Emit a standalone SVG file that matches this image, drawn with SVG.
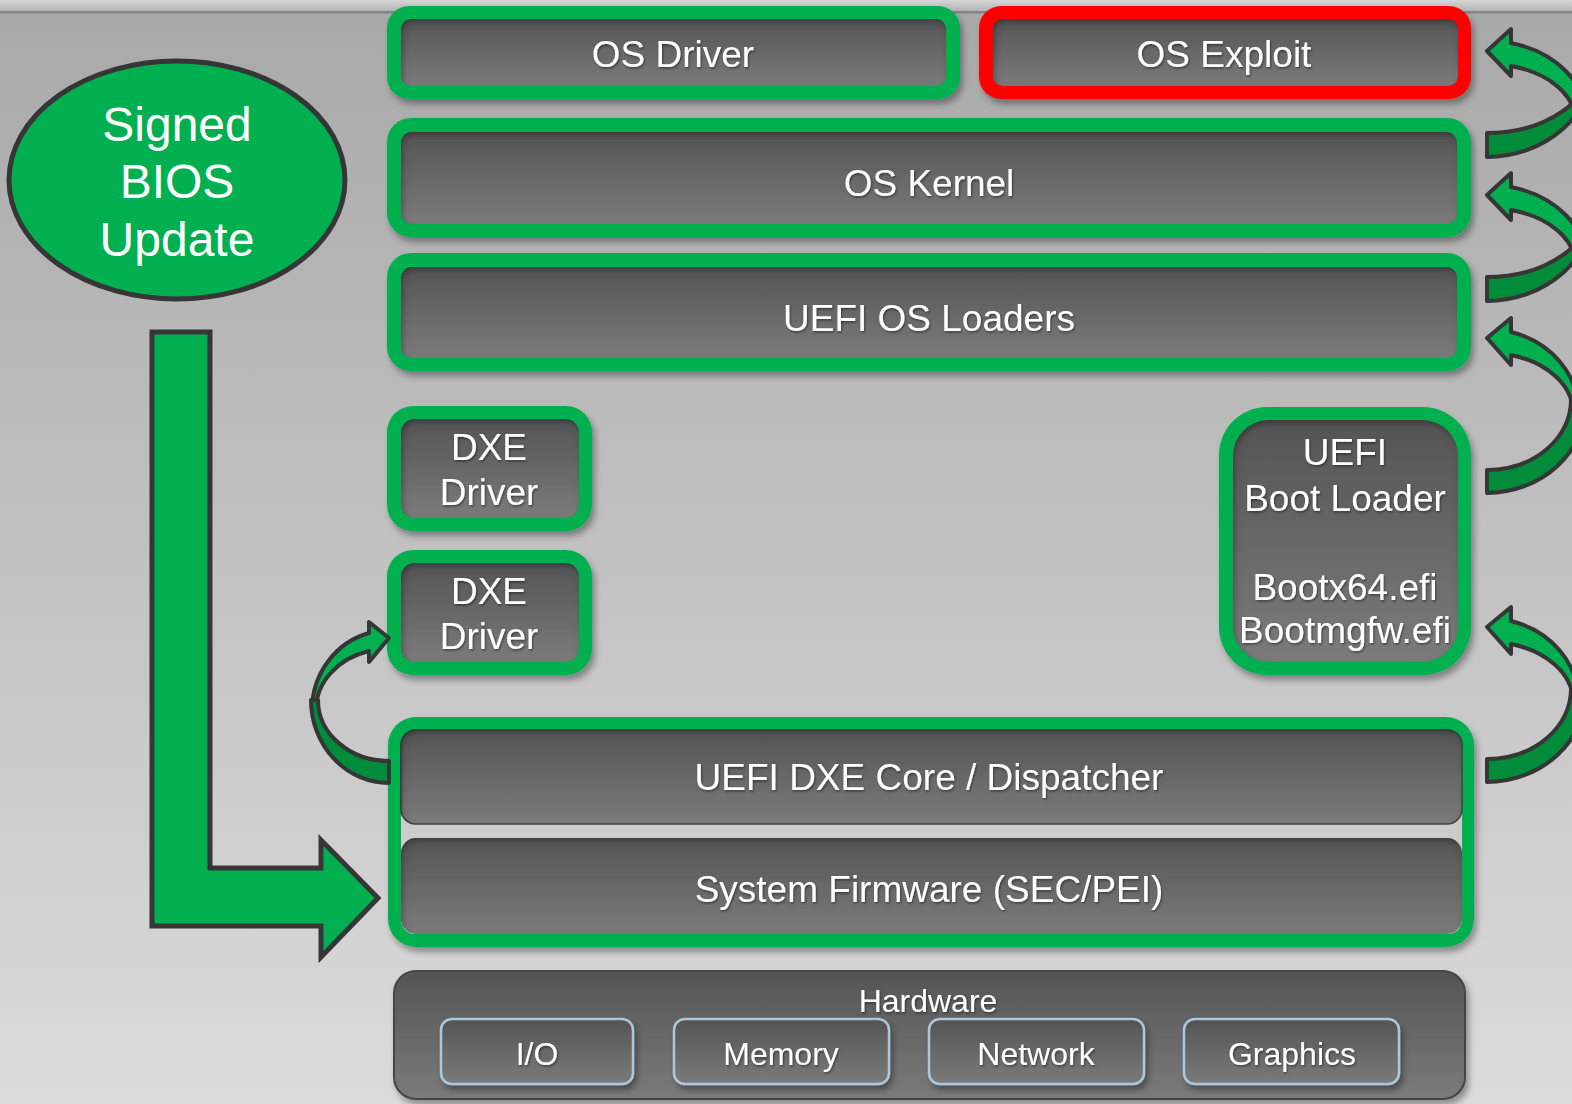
<svg xmlns="http://www.w3.org/2000/svg" width="1572" height="1104" viewBox="0 0 1572 1104">
  <defs>
    <linearGradient id="bg" x1="0" y1="0" x2="0" y2="1">
      <stop offset="0" stop-color="#a8a8a8"/>
      <stop offset="1" stop-color="#dbdbdb"/>
    </linearGradient>
    <linearGradient id="topbar" x1="0" y1="0" x2="0" y2="1">
      <stop offset="0" stop-color="#d6d6d6"/>
      <stop offset="1" stop-color="#b4b4b4"/>
    </linearGradient>
    <linearGradient id="panel" x1="0" y1="0" x2="0" y2="1">
      <stop offset="0" stop-color="#545454"/>
      <stop offset="1" stop-color="#7b7b7b"/>
    </linearGradient>
    <linearGradient id="gap" x1="0" y1="0" x2="0" y2="1">
      <stop offset="0" stop-color="#c2c2c2"/>
      <stop offset="1" stop-color="#d6d6d6"/>
    </linearGradient>
    <filter id="drop" x="-5%" y="-10%" width="112%" height="125%">
      <feDropShadow dx="3" dy="5" stdDeviation="3" flood-color="#000" flood-opacity="0.35"/>
    </filter>
    <filter id="inset" x="-5%" y="-10%" width="110%" height="120%">
      <feComponentTransfer in="SourceAlpha">
        <feFuncA type="table" tableValues="1 0"/>
      </feComponentTransfer>
      <feGaussianBlur stdDeviation="3"/>
      <feOffset dx="2" dy="3" result="ob"/>
      <feFlood flood-color="#000" flood-opacity="0.55"/>
      <feComposite in2="ob" operator="in"/>
      <feComposite in2="SourceAlpha" operator="in" result="sh"/>
      <feMerge>
        <feMergeNode in="SourceGraphic"/>
        <feMergeNode in="sh"/>
      </feMerge>
    </filter>
    <filter id="tshadow" x="-5%" y="-20%" width="110%" height="140%">
      <feDropShadow dx="1" dy="1.5" stdDeviation="0.8" flood-color="#000" flood-opacity="0.45"/>
    </filter>
    <!-- curved return arrows, drawn relative to the head tip -->
    <g id="curveShort">
      <path class="arr-l" d="M1511,-8 A100,79 0 0 1 1587,69 L1575,69 A88,56 0 0 0 1511,15 L1511,25 L1487,0 L1511,-22 Z"/>
      <path class="arr-d" d="M1487,82 A106,73 0 0 0 1593,9 L1595,9 A108,97 0 0 1 1487,106 Z"/>
    </g>
    <g id="curveTall">
      <path class="arr-l" d="M1511,-6 A91,81 0 0 1 1578,72 L1573,72 A86,60 0 0 0 1511,17 L1511,27 L1487,0 L1511,-20 Z"/>
      <path class="arr-d" d="M1487,132 A84,70 0 0 0 1571,62 L1587,62 A100,93 0 0 1 1487,155 Z"/>
    </g>
  </defs>
  <style>
    .lbl { font-family: "Liberation Sans", Arial, sans-serif; fill: #ffffff; text-anchor: middle; font-size: 37px; }
    .hw { font-family: "Liberation Sans", Arial, sans-serif; fill: #ffffff; text-anchor: middle; font-size: 32px; }
    .frame { fill: #00b050; }
    .panel { fill: url(#panel); }
    .arr-l { fill: #00b050; stroke: #363636; stroke-width: 4; stroke-linejoin: round; }
    .arr-d { fill: #008c3a; stroke: #363636; stroke-width: 4; stroke-linejoin: round; }
    .big { fill: #00b050; stroke: #363636; stroke-width: 5; stroke-linejoin: miter; }
    .hwitem { fill: url(#panel); stroke: #a9c8de; stroke-width: 2.5; }
  </style>

  <!-- background -->
  <rect x="0" y="0" width="1572" height="1104" fill="url(#bg)"/>
  <rect x="0" y="0" width="1572" height="11" fill="url(#topbar)"/>
  <rect x="0" y="11" width="1572" height="2.5" fill="#858585"/>

  <!-- OS layer -->
  <g id="os-driver">
    <rect class="frame" x="387" y="6" width="573" height="93" rx="22" filter="url(#drop)"/>
    <rect class="panel" x="401" y="19" width="545" height="67" rx="10" filter="url(#inset)"/>
    <text class="lbl" x="673" y="67" filter="url(#tshadow)">OS Driver</text>
  </g>
  <g id="os-exploit">
    <rect x="979" y="6" width="492" height="93" rx="22" fill="#ff0000" filter="url(#drop)"/>
    <rect class="panel" x="993" y="19" width="465" height="67" rx="10" filter="url(#inset)"/>
    <text class="lbl" x="1224" y="67" filter="url(#tshadow)">OS Exploit</text>
  </g>
  <g id="os-kernel">
    <rect class="frame" x="387" y="118" width="1084" height="119" rx="24" filter="url(#drop)"/>
    <rect class="panel" x="401" y="132" width="1056" height="92" rx="11" filter="url(#inset)"/>
    <text class="lbl" x="929" y="196" filter="url(#tshadow)">OS Kernel</text>
  </g>
  <g id="uefi-os-loaders">
    <rect class="frame" x="387" y="253" width="1084" height="118" rx="24" filter="url(#drop)"/>
    <rect class="panel" x="401" y="267" width="1056" height="91" rx="11" filter="url(#inset)"/>
    <text class="lbl" x="929" y="331" filter="url(#tshadow)">UEFI OS Loaders</text>
  </g>

  <!-- DXE drivers -->
  <g id="dxe-driver-1">
    <rect class="frame" x="387" y="406" width="205" height="125" rx="26" filter="url(#drop)"/>
    <rect class="panel" x="401" y="419" width="178" height="99" rx="14" filter="url(#inset)"/>
    <text class="lbl" x="489" y="460" filter="url(#tshadow)">DXE</text>
    <text class="lbl" x="489" y="505" filter="url(#tshadow)">Driver</text>
  </g>
  <g id="dxe-driver-2">
    <rect class="frame" x="387" y="550" width="205" height="125" rx="26" filter="url(#drop)"/>
    <rect class="panel" x="401" y="563" width="178" height="99" rx="14" filter="url(#inset)"/>
    <text class="lbl" x="489" y="604" filter="url(#tshadow)">DXE</text>
    <text class="lbl" x="489" y="649" filter="url(#tshadow)">Driver</text>
  </g>

  <!-- boot loader -->
  <g id="uefi-boot-loader">
    <rect class="frame" x="1219" y="407" width="252" height="268" rx="48" filter="url(#drop)"/>
    <rect class="panel" x="1233" y="420" width="225" height="242" rx="36" filter="url(#inset)"/>
    <text class="lbl" x="1345" y="465" filter="url(#tshadow)">UEFI</text>
    <text class="lbl" x="1345" y="511" filter="url(#tshadow)">Boot Loader</text>
    <text class="lbl" x="1345" y="600" filter="url(#tshadow)">Bootx64.efi</text>
    <text class="lbl" x="1345" y="643" filter="url(#tshadow)">Bootmgfw.efi</text>
  </g>

  <!-- platform firmware -->
  <g id="firmware">
    <rect class="frame" x="388" y="717" width="1086" height="230" rx="28" filter="url(#drop)"/>
    <rect x="401" y="730" width="1061" height="204" rx="14" fill="url(#gap)"/>
    <g id="dxe-core">
      <rect class="panel" x="401" y="730" width="1061" height="94" rx="15" stroke="#474747" stroke-width="1.5" filter="url(#inset)"/>
      <text class="lbl" x="929" y="790" filter="url(#tshadow)">UEFI DXE Core / Dispatcher</text>
    </g>
    <g id="sec-pei">
      <rect class="panel" x="401" y="838" width="1061" height="96" rx="15" filter="url(#inset)"/>
      <text class="lbl" x="929" y="902" filter="url(#tshadow)">System Firmware (SEC/PEI)</text>
    </g>
  </g>

  <!-- hardware -->
  <g id="hardware">
    <rect x="394" y="971" width="1071" height="128" rx="22" fill="url(#panel)" stroke="#444" stroke-width="2" filter="url(#drop)"/>
    <text class="hw" x="928" y="1012" filter="url(#tshadow)">Hardware</text>
    <g id="hw-io">
      <rect class="hwitem" x="441" y="1019" width="192" height="65" rx="11" filter="url(#drop)"/>
      <text class="hw" x="537" y="1065" filter="url(#tshadow)">I/O</text>
    </g>
    <g id="hw-memory">
      <rect class="hwitem" x="674" y="1019" width="215" height="65" rx="11" filter="url(#drop)"/>
      <text class="hw" x="781" y="1065" filter="url(#tshadow)">Memory</text>
    </g>
    <g id="hw-network">
      <rect class="hwitem" x="929" y="1019" width="215" height="65" rx="11" filter="url(#drop)"/>
      <text class="hw" x="1036" y="1065" filter="url(#tshadow)">Network</text>
    </g>
    <g id="hw-graphics">
      <rect class="hwitem" x="1184" y="1019" width="215" height="65" rx="11" filter="url(#drop)"/>
      <text class="hw" x="1292" y="1065" filter="url(#tshadow)">Graphics</text>
    </g>
  </g>

  <!-- signed update -->
  <g id="signed-bios-update">
    <ellipse cx="177" cy="180" rx="168" ry="119" fill="#00b050" stroke="#363636" stroke-width="5"/>
    <text class="lbl" x="177" y="141" style="font-size:48px">Signed</text>
    <text class="lbl" x="177" y="198" style="font-size:48px">BIOS</text>
    <text class="lbl" x="177" y="256" style="font-size:48px">Update</text>
  </g>

  <!-- connectors -->
  <g id="connectors">
    <path class="big" d="M152,332 L210,332 L210,868 L321,868 L321,840 L378,898 L321,957 L321,926 L152,926 Z"/>
    <use href="#curveShort" transform="translate(0,51)"/>
    <use href="#curveShort" transform="translate(0,195)"/>
    <use href="#curveTall" transform="translate(0,338)"/>
    <use href="#curveTall" transform="translate(0,627)"/>
    <g transform="translate(0,638)">
      <path class="arr-l" d="M369,-5 A77,80 0 0 0 312,72 L316,72 A73,61 0 0 1 369,13 L369,24 L389,0 L369,-16 Z"/>
      <path class="arr-d" d="M389,123 A71,61 0 0 1 318,62 L311,62 A78,83 0 0 0 389,145 Z"/>
    </g>
  </g>
</svg>
